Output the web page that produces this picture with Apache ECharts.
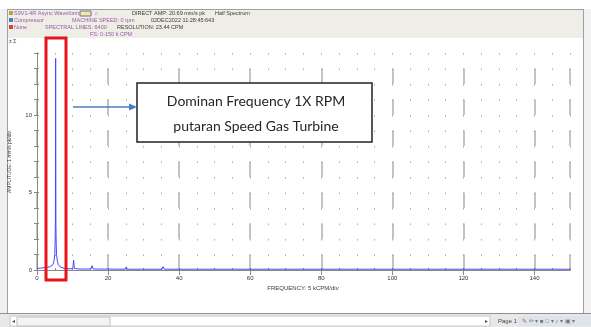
<!DOCTYPE html>
<html><head><meta charset="utf-8">
<script src="https://cdn.jsdelivr.net/npm/echarts@6/dist/echarts.min.js"></script>
<style>html,body{margin:0;padding:0;background:#fff}#c{width:591px;height:327px}</style>
</head><body><div id="c"></div>
<script>
// Spectrum data (frequency in kCPM, amplitude in mm/s pk)
const freq = [0, 1, 2, 3, 3.6, 4.0, 4.5, 4.8, 5.0, 5.1, 5.18, 5.25, 5.32, 5.4, 5.5, 5.7, 6.0, 6.5, 7.0, 8.0, 9.5, 10.1, 10.3, 10.5, 11.5, 13, 15.2, 15.5, 15.8, 17, 20, 24.8, 25.1, 25.4, 29.6, 29.9, 30.2, 35.2, 35.5, 35.8, 40, 44.8, 45.1, 45.4, 50, 55, 60, 65, 70, 75, 80, 85, 90, 95, 100, 105, 110, 115, 120, 125, 130, 135, 140, 145, 150];
const amp  = [0.1, 0.12, 0.15, 0.18, 0.2, 0.22, 0.35, 0.6, 1.0, 1.8, 3.1, 13.65, 3.0, 1.7, 1.0, 0.6, 0.35, 0.2, 0.12, 0.08, 0.08, 0.1, 0.65, 0.1, 0.07, 0.06, 0.07, 0.28, 0.07, 0.06, 0.06, 0.05, 0.2, 0.05, 0.05, 0.15, 0.05, 0.05, 0.22, 0.05, 0.05, 0.05, 0.1, 0.05, 0.05, 0.05, 0.05, 0.05, 0.05, 0.05, 0.05, 0.05, 0.05, 0.05, 0.05, 0.05, 0.05, 0.05, 0.05, 0.05, 0.05, 0.05, 0.05, 0.05, 0.05];
const xTickLabels = ['0','20','40','60','80','100','120','140'];
const yTickLabels = ['0','5','10'];

const purple = '#9a5aa8', dark = '#3a3a3a';
const chart = echarts.init(document.getElementById('c'), null, {renderer:'canvas'});
const T = (x,y,text,color,size) => ({type:'text', x, y, z:10, style:{text, fill:color||dark, fontSize:size||5.5, fontFamily:'Liberation Sans', verticalAlign:'middle'}});

chart.setOption({
  animation:false,
  backgroundColor:'#ffffff',
  grid:{left:37, top:53, right:21, bottom:57},
  xAxis:[
    {type:'value', min:0, max:150, interval:20, position:'bottom',
     axisLine:{show:true, lineStyle:{color:'#888', width:1}},
     axisTick:{show:true, length:5, inside:false, lineStyle:{color:'#888'}},
     axisLabel:{fontSize:6, color:'#333', margin:5, fontFamily:'Liberation Sans', showMaxLabel:false,
       formatter:v => xTickLabels.indexOf(String(v))>=0 ? String(v) : ''},
     splitLine:{show:true, lineStyle:{color:'#b0b0b0', width:1.5, type:[15.5,15.5], dashOffset:15.5}}},
    {type:'value', min:0, max:150, interval:5, position:'top',
     axisLine:{show:true, lineStyle:{color:'#888', width:1}},
     axisTick:{show:true, length:2, inside:false, lineStyle:{color:'#888'}},
     axisLabel:{show:false},
     splitLine:{show:true, lineStyle:{color:'#aaa', width:1, type:[1.5,14]}}}
  ],
  yAxis:[
    {type:'value', min:0, max:14, interval:1, position:'left',
     axisLine:{show:true, lineStyle:{color:'#888', width:1}},
     axisTick:{show:true, length:2, inside:true, lineStyle:{color:'#888'}},
     axisLabel:{fontSize:6, color:'#333', margin:5, fontFamily:'Liberation Sans',
       formatter:v => yTickLabels.indexOf(String(v))>=0 ? String(v) : ''},
     splitLine:{show:false}},
    {type:'value', min:0, max:14, interval:1, position:'right',
     axisLine:{show:true, lineStyle:{color:'#888', width:1}},
     axisTick:{show:true, length:3, inside:true, lineStyle:{color:'#888'}},
     axisLabel:{show:false}, splitLine:{show:false}}
  ],
  series:[{type:'line', xAxisIndex:0, yAxisIndex:0, symbol:'none', smooth:false,
    data:freq.map((f,i)=>[f,amp[i]]), lineStyle:{color:'#4848ff', width:1}, z:5}],
  graphic:[
    // window frame
    {type:'rect', shape:{x:0,y:0,width:591,height:9}, style:{fill:'#ffffff'}, z:1},
    {type:'rect', shape:{x:0,y:9,width:591,height:1}, style:{fill:'#a0a0a0'}, z:1},
    {type:'rect', shape:{x:8,y:10,width:575,height:28}, style:{fill:'#eeede6'}, z:1},
    {type:'rect', shape:{x:0,y:9,width:7,height:305}, style:{fill:'#f0f0f0'}, z:1},
    {type:'rect', shape:{x:7,y:9,width:1,height:305}, style:{fill:'#a0a0a0'}, z:1},
    {type:'rect', shape:{x:583,y:9,width:1,height:305}, style:{fill:'#a0a0a0'}, z:1},
    {type:'rect', shape:{x:584,y:9,width:7,height:305}, style:{fill:'#f2f2f2'}, z:1},
    {type:'rect', shape:{x:0,y:313,width:591,height:1}, style:{fill:'#909090'}, z:1},
    {type:'rect', shape:{x:0,y:314,width:591,height:13}, style:{fill:'#e8e8e8'}, z:1},
    {type:'rect', shape:{x:10,y:316,width:480,height:10}, style:{fill:'#ffffff', stroke:'#c8c8c8', lineWidth:1}, z:2},
    {type:'rect', shape:{x:17,y:317,width:93,height:9}, style:{fill:'#f4f4f4', stroke:'#c0c0c0', lineWidth:1}, z:3},
    T(12,321,'◂','#555',6),
    T(485,321,'▸','#555',6),
    T(498,321,'Page 1','#444',6),
    {type:'rect', shape:{x:518,y:316,width:73,height:10}, style:{fill:'#dfe3ea'}, z:2},
    T(522,321,'✎ ✏ ▾ ■ □ ▾ ♪ ▾ ▣ ▾','#777',6),
    // header texts
    {type:'rect', shape:{x:9,y:11,width:4,height:4}, style:{fill:'#c79a3a'}, z:10},
    T(14,13,'S9V1-4R Async Waveform',purple),
    {type:'rect', shape:{x:80,y:11,width:11,height:5}, style:{fill:'#f2ea9a', stroke:'#6a6aaa', lineWidth:1}, z:10},
    T(95,13,'⌕',purple),
    T(132,13,'DIRECT AMP: 20.69 mm/s pk',dark),
    T(215,13,'Half Spectrum',dark),
    {type:'rect', shape:{x:9,y:18,width:4,height:4}, style:{fill:'#5577cc'}, z:10},
    T(14,20,'Compressor',purple),
    T(72,20,'MACHINE SPEED: 0 rpm',purple),
    T(151,20,'02DEC2022 11:28:45:643',dark),
    {type:'rect', shape:{x:9,y:25,width:4,height:4}, style:{fill:'#cc4444'}, z:10},
    T(14,27,'None',purple),
    T(45,27,'SPECTRAL LINES: 6400',purple),
    T(117,27,'RESOLUTION: 23.44 CPM',dark),
    T(90,34,'FS: 0-150 k CPM',purple),
    T(9,42,'± Σ',dark,5),
    // axis titles
    {type:'text', x:303, y:288, z:10, style:{text:'FREQUENCY: 5 kCPM/div', fill:dark, fontSize:6, fontFamily:'Liberation Sans', align:'center', verticalAlign:'middle'}},
    {type:'text', x:10, y:162, rotation:Math.PI/2, z:10,
     style:{text:'AMPLITUDE: 1 mm/s pk/div', fill:dark, fontSize:5, fontFamily:'Liberation Sans', align:'center', verticalAlign:'middle'}},
    // red highlight rectangle
    {type:'rect', shape:{x:46,y:38,width:20,height:242}, style:{fill:'none', stroke:'#e8141a', lineWidth:3}, z:20},
    // annotation arrow
    {type:'line', shape:{x1:73,y1:107,x2:131,y2:107}, style:{stroke:'#4a7ebb', lineWidth:1.5}, z:20},
    {type:'polygon', shape:{points:[[137,107],[129,103.5],[129,110.5]]}, style:{fill:'#4a7ebb'}, z:20},
    // annotation box
    {type:'rect', shape:{x:137,y:83,width:235,height:59}, style:{fill:'#ffffff', stroke:'#222', lineWidth:1.5}, z:20},
    {type:'text', x:256, y:101, z:21, style:{text:'Dominan Frequency 1X RPM', fill:'#262626', fontSize:14, fontFamily:'Lato', align:'center', verticalAlign:'middle'}},
    {type:'text', x:256, y:126, z:21, style:{text:'putaran Speed Gas Turbine', fill:'#262626', fontSize:14, fontFamily:'Lato', align:'center', verticalAlign:'middle'}}
  ]
});
</script></body></html>
